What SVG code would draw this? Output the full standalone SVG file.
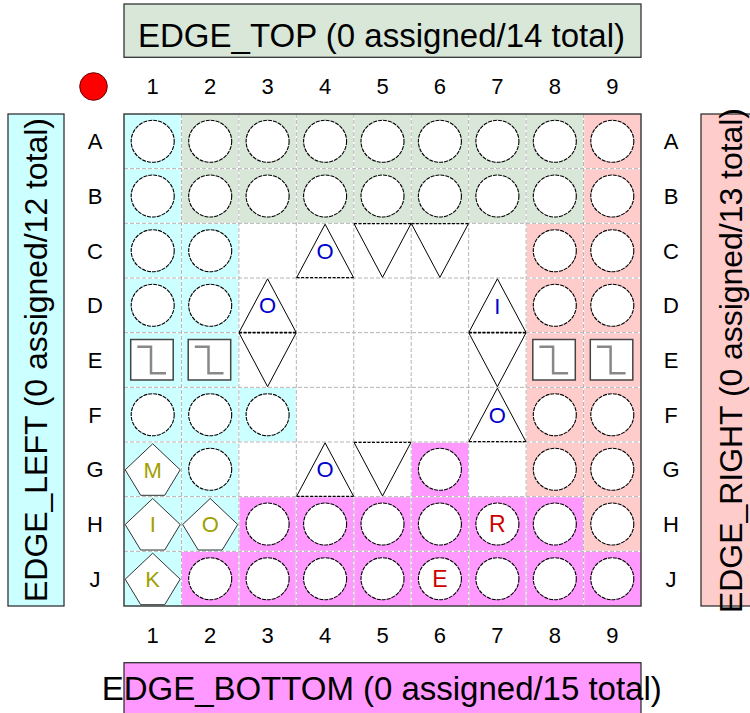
<svg xmlns="http://www.w3.org/2000/svg" width="750" height="713" viewBox="0 0 750 713">
<style>
text{font-family:"Liberation Sans",Arial,sans-serif;fill:#000}
.lbl{font-size:22px;text-anchor:middle}
.edge{font-size:33px;text-anchor:middle}
.box{stroke:#333;stroke-width:1.3}
.cyan{fill:#ccffff}.green{fill:#d9e7d9}.pink{fill:#ffcccc}.mag{fill:#ff99ff}
.gw{stroke:#fff;stroke-width:1.3;fill:none}
.gd{stroke:#b4b4b4;stroke-width:1;stroke-dasharray:4 2;fill:none}
.pin{fill:#fff;stroke:#000;stroke-width:1.1;stroke-dasharray:4 1}
.tri{fill:#fff;stroke:none}
.side{fill:none;stroke:#000;stroke-width:1}
.dash{fill:none;stroke:#000;stroke-width:1.2;stroke-dasharray:3 1.5}
.pent{fill:#fff;stroke:#333;stroke-width:1}
.sq{fill:#fff;stroke:#444;stroke-width:1.5}
.step{fill:none;stroke:#888;stroke-width:2.5}
.blue{fill:#0000cc;font-size:22px;text-anchor:middle}
.olive{fill:#a0a000;font-size:22px;text-anchor:middle}
.red{fill:#cc0000;font-size:23px;text-anchor:middle}
</style>
<defs>
<ellipse id="circ" class="pin" cx="0" cy="0" rx="21.5" ry="21"/>
<g id="up"><polygon class="tri" points="-28.5,27 0,-26.5 28.5,27"/><path class="side" d="M-28.5,27 L0,-26.5 L28.5,27"/><path class="dash" d="M-28.5,27 H28.5"/></g>
<g id="down"><polygon class="tri" points="-28.5,-27 0,26.7 28.5,-27"/><path class="side" d="M-28.5,-27 L0,26.7 L28.5,-27"/><path class="dash" d="M-28.5,-27 H28.5"/></g>
<polygon id="pent" class="pent" points="0,-25.5 27.5,0.5 12,26 -12,26 -27.5,0.5"/>
<g id="sqw"><rect class="sq" x="-22" y="-20.5" width="42.5" height="40.5"/><polyline class="step" points="-15.4,-13.3 -1.7,-13.3 -1.7,13.3 13.3,13.3"/></g>
</defs>
<rect width="750" height="713" fill="#fff"/>

<!-- edge boxes -->
<g id="edge-top"><rect class="box green" x="124" y="4" width="517" height="53.3"/><text class="edge" x="381.5" y="46.5" textLength="487">EDGE_TOP (0 assigned/14 total)</text></g>
<g id="edge-left"><rect class="box cyan" x="8" y="114" width="56" height="492"/><text class="edge" style="font-size:32px" transform="translate(47,360) rotate(-90)" textLength="484">EDGE_LEFT (0 assigned/12 total)</text></g>
<g id="edge-right"><rect class="box pink" x="701" y="114" width="60" height="492"/><text class="edge" style="font-size:32px" transform="translate(741.5,360.5) rotate(-90)" textLength="505">EDGE_RIGHT (0 assigned/13 total)</text></g>
<g id="edge-bottom"><rect class="box mag" x="124" y="662.7" width="517" height="60"/><text class="edge" x="381.7" y="700" textLength="560">EDGE_BOTTOM (0 assigned/15 total)</text></g>

<!-- marker -->
<g id="pin1-marker"><circle cx="93.5" cy="86.5" r="13.8" fill="#ff0000" stroke="#660000" stroke-width="1"/></g>

<!-- labels -->
<g id="col-labels" class="lbl">
<text class="lbl" x="152.7" y="94">1</text><text class="lbl" x="210.2" y="94">2</text><text class="lbl" x="267.6" y="94">3</text><text class="lbl" x="325.1" y="94">4</text><text class="lbl" x="382.5" y="94">5</text><text class="lbl" x="439.9" y="94">6</text><text class="lbl" x="497.4" y="94">7</text><text class="lbl" x="554.8" y="94">8</text><text class="lbl" x="612.3" y="94">9</text>
<text class="lbl" x="152.7" y="643">1</text><text class="lbl" x="210.2" y="643">2</text><text class="lbl" x="267.6" y="643">3</text><text class="lbl" x="325.1" y="643">4</text><text class="lbl" x="382.5" y="643">5</text><text class="lbl" x="439.9" y="643">6</text><text class="lbl" x="497.4" y="643">7</text><text class="lbl" x="554.8" y="643">8</text><text class="lbl" x="612.3" y="643">9</text>
</g>
<g id="row-labels">
<text class="lbl" x="95" y="149.3">A</text><text class="lbl" x="95" y="204">B</text><text class="lbl" x="95" y="258.7">C</text><text class="lbl" x="95" y="313.3">D</text><text class="lbl" x="95" y="368">E</text><text class="lbl" x="95" y="422.7">F</text><text class="lbl" x="95" y="477.3">G</text><text class="lbl" x="95" y="532">H</text><text class="lbl" x="95" y="586.7">J</text>
<text class="lbl" x="671" y="149.3">A</text><text class="lbl" x="671" y="204">B</text><text class="lbl" x="671" y="258.7">C</text><text class="lbl" x="671" y="313.3">D</text><text class="lbl" x="671" y="368">E</text><text class="lbl" x="671" y="422.7">F</text><text class="lbl" x="671" y="477.3">G</text><text class="lbl" x="671" y="532">H</text><text class="lbl" x="671" y="586.7">J</text>
</g>

<!-- regions -->
<g id="regions">
<rect class="cyan" x="124" y="114" width="57.44" height="492"/>
<rect class="cyan" x="181.44" y="223.33" width="57.45" height="328"/>
<rect class="cyan" x="238.89" y="387.33" width="57.44" height="54.67"/>
<rect class="green" x="181.44" y="114" width="402.12" height="109.33"/>
<rect class="pink" x="583.56" y="114" width="57.44" height="437.33"/>
<rect class="pink" x="526.11" y="223.33" width="57.45" height="273.34"/>
<rect class="mag" x="411.22" y="442" width="57.45" height="54.67"/>
<rect class="mag" x="238.89" y="496.67" width="344.67" height="54.66"/>
<rect class="mag" x="181.44" y="551.33" width="459.56" height="54.67"/>
</g>

<!-- grid -->
<g id="grid">
<path class="gw" d="M181.44,114V606M238.89,114V606M296.33,114V606M353.78,114V606M411.22,114V606M468.67,114V606M526.11,114V606M583.56,114V606M124,168.67H641M124,223.33H641M124,278H641M124,332.67H641M124,387.33H641M124,442H641M124,496.67H641M124,551.33H641"/>
<path class="gd" d="M181.44,114V606M238.89,114V606M296.33,114V606M353.78,114V606M411.22,114V606M468.67,114V606M526.11,114V606M583.56,114V606M124,168.67H641M124,223.33H641M124,278H641M124,332.67H641M124,387.33H641M124,442H641M124,496.67H641M124,551.33H641"/>
<rect x="124" y="114" width="517" height="492" fill="none" stroke="#404040" stroke-width="1.5"/>
</g>

<g id="connectors"/>

<!-- row A -->
<g id="A1"><use href="#circ" x="152.7" y="141.3"/></g>
<g id="A2"><use href="#circ" x="210.2" y="141.3"/></g>
<g id="A3"><use href="#circ" x="267.6" y="141.3"/></g>
<g id="A4"><use href="#circ" x="325.1" y="141.3"/></g>
<g id="A5"><use href="#circ" x="382.5" y="141.3"/></g>
<g id="A6"><use href="#circ" x="439.9" y="141.3"/></g>
<g id="A7"><use href="#circ" x="497.4" y="141.3"/></g>
<g id="A8"><use href="#circ" x="554.8" y="141.3"/></g>
<g id="A9"><use href="#circ" x="612.3" y="141.3"/></g>
<!-- row B -->
<g id="B1"><use href="#circ" x="152.7" y="196"/></g>
<g id="B2"><use href="#circ" x="210.2" y="196"/></g>
<g id="B3"><use href="#circ" x="267.6" y="196"/></g>
<g id="B4"><use href="#circ" x="325.1" y="196"/></g>
<g id="B5"><use href="#circ" x="382.5" y="196"/></g>
<g id="B6"><use href="#circ" x="439.9" y="196"/></g>
<g id="B7"><use href="#circ" x="497.4" y="196"/></g>
<g id="B8"><use href="#circ" x="554.8" y="196"/></g>
<g id="B9"><use href="#circ" x="612.3" y="196"/></g>
<!-- row C -->
<g id="C1"><use href="#circ" x="152.7" y="250.7"/></g>
<g id="C2"><use href="#circ" x="210.2" y="250.7"/></g>
<g id="C4"><use href="#up" x="325.1" y="250.7"/><text class="blue" x="325.1" y="258.5">O</text></g>
<g id="C5"><use href="#down" x="382.5" y="250.7"/></g>
<g id="C6"><use href="#down" x="439.9" y="250.7"/></g>
<g id="C8"><use href="#circ" x="554.8" y="250.7"/></g>
<g id="C9"><use href="#circ" x="612.3" y="250.7"/></g>
<!-- row D -->
<g id="D1"><use href="#circ" x="152.7" y="305.3"/></g>
<g id="D2"><use href="#circ" x="210.2" y="305.3"/></g>
<g id="D3"><use href="#up" x="267.6" y="305.3"/><text class="blue" x="267.6" y="313">O</text></g>
<g id="D7"><use href="#up" x="497.4" y="305.3"/><text class="blue" x="497.4" y="314">I</text></g>
<g id="D8"><use href="#circ" x="554.8" y="305.3"/></g>
<g id="D9"><use href="#circ" x="612.3" y="305.3"/></g>
<!-- row E -->
<g id="E1"><use href="#sqw" x="152.7" y="360"/></g>
<g id="E2"><use href="#sqw" x="210.2" y="360"/></g>
<g id="E3"><use href="#down" x="267.6" y="360"/></g>
<g id="E7"><use href="#down" x="497.4" y="360"/></g>
<g id="E8"><use href="#sqw" x="554.8" y="360"/></g>
<g id="E9"><use href="#sqw" x="612.3" y="360"/></g>
<!-- row F -->
<g id="F1"><use href="#circ" x="152.7" y="414.7"/></g>
<g id="F2"><use href="#circ" x="210.2" y="414.7"/></g>
<g id="F3"><use href="#circ" x="267.6" y="414.7"/></g>
<g id="F7"><use href="#up" x="497.4" y="414.7"/><text class="blue" x="497.4" y="423">O</text></g>
<g id="F8"><use href="#circ" x="554.8" y="414.7"/></g>
<g id="F9"><use href="#circ" x="612.3" y="414.7"/></g>
<!-- row G -->
<g id="G1"><use href="#pent" x="152.7" y="469.3"/><text class="olive" x="152.7" y="478">M</text></g>
<g id="G2"><use href="#circ" x="210.2" y="469.3"/></g>
<g id="G4"><use href="#up" x="325.1" y="469.3"/><text class="blue" x="325.1" y="477.3">O</text></g>
<g id="G5"><use href="#down" x="382.5" y="469.3"/></g>
<g id="G6"><use href="#circ" x="439.9" y="469.3"/></g>
<g id="G8"><use href="#circ" x="554.8" y="469.3"/></g>
<g id="G9"><use href="#circ" x="612.3" y="469.3"/></g>
<!-- row H -->
<g id="H1"><use href="#pent" x="152.7" y="524"/><text class="olive" x="152.7" y="532">I</text></g>
<g id="H2"><use href="#pent" x="210.2" y="524"/><text class="olive" x="210.2" y="532">O</text></g>
<g id="H3"><use href="#circ" x="267.6" y="524"/></g>
<g id="H4"><use href="#circ" x="325.1" y="524"/></g>
<g id="H5"><use href="#circ" x="382.5" y="524"/></g>
<g id="H6"><use href="#circ" x="439.9" y="524"/></g>
<g id="H7"><use href="#circ" x="497.4" y="524"/><text class="red" x="497.4" y="532.3">R</text></g>
<g id="H8"><use href="#circ" x="554.8" y="524"/></g>
<g id="H9"><use href="#circ" x="612.3" y="524"/></g>
<!-- row J -->
<g id="J1"><use href="#pent" x="152.7" y="578.7"/><text class="olive" x="152.7" y="586.7">K</text></g>
<g id="J2"><use href="#circ" x="210.2" y="578.7"/></g>
<g id="J3"><use href="#circ" x="267.6" y="578.7"/></g>
<g id="J4"><use href="#circ" x="325.1" y="578.7"/></g>
<g id="J5"><use href="#circ" x="382.5" y="578.7"/></g>
<g id="J6"><use href="#circ" x="439.9" y="578.7"/><text class="red" x="439.9" y="587">E</text></g>
<g id="J7"><use href="#circ" x="497.4" y="578.7"/></g>
<g id="J8"><use href="#circ" x="554.8" y="578.7"/></g>
<g id="J9"><use href="#circ" x="612.3" y="578.7"/></g>
</svg>
